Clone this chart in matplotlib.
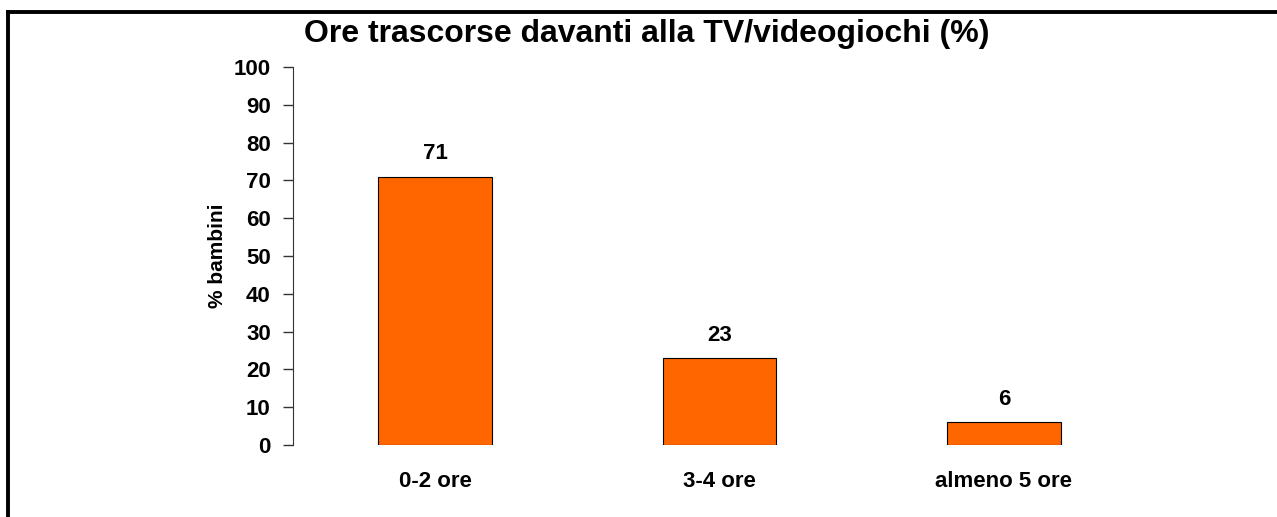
import matplotlib.pyplot as plt
from matplotlib.lines import Line2D

categories = ['0-2 ore', '3-4 ore', 'almeno 5 ore']
values = [71, 23, 6]
y_ticks = [0, 10, 20, 30, 40, 50, 60, 70, 80, 90, 100]

plt.rcParams['font.family'] = ['Liberation Sans', 'DejaVu Sans']
plt.rcParams['font.weight'] = 'bold'

fig = plt.figure(figsize=(12.77, 5.17), dpi=100)
ax = fig.add_axes([293 / 1277, 1 - 445 / 517, (1146 - 293) / 1277, (445 - 67) / 517])

x = range(len(categories))
bars = ax.bar(x, values, width=0.4, color='#FF6600', edgecolor='black', linewidth=0.8)

for i, v in enumerate(values):
    ax.annotate(str(v), (i, v), xytext=(0, 9), textcoords='offset points',
                ha='center', va='bottom', fontsize=16, fontweight='bold')

ax.set_xlim(-0.5, 2.5)
ax.set_ylim(0, 100)
ax.set_yticks(y_ticks)
ax.set_yticklabels([str(t) for t in y_ticks], fontsize=16, fontweight='bold')
ax.set_xticks(list(x))
ax.set_xticklabels(categories, fontsize=16, fontweight='bold')
ax.tick_params(axis='x', length=0, pad=19)
ax.tick_params(axis='y', length=7, width=1, pad=9, color='#333333')

for side in ['top', 'right', 'bottom']:
    ax.spines[side].set_visible(False)
ax.spines['left'].set_color('#333333')

ax.set_ylabel('% bambini', fontsize=15, fontweight='bold', labelpad=5)
fig.text(647 / 1277, 1 - 34 / 517, 'Ore trascorse davanti alla TV/videogiochi (%)',
         ha='center', va='center', fontsize=23, fontweight='bold')

# cornice esterna
fig.add_artist(Line2D([8 / 1277, 1], [1 - 12 / 517] * 2, transform=fig.transFigure,
                      color='black', linewidth=2.8))
fig.add_artist(Line2D([8 / 1277] * 2, [0, 1 - 12 / 517], transform=fig.transFigure,
                      color='black', linewidth=2.8))

fig.savefig('out.png', dpi=100)
